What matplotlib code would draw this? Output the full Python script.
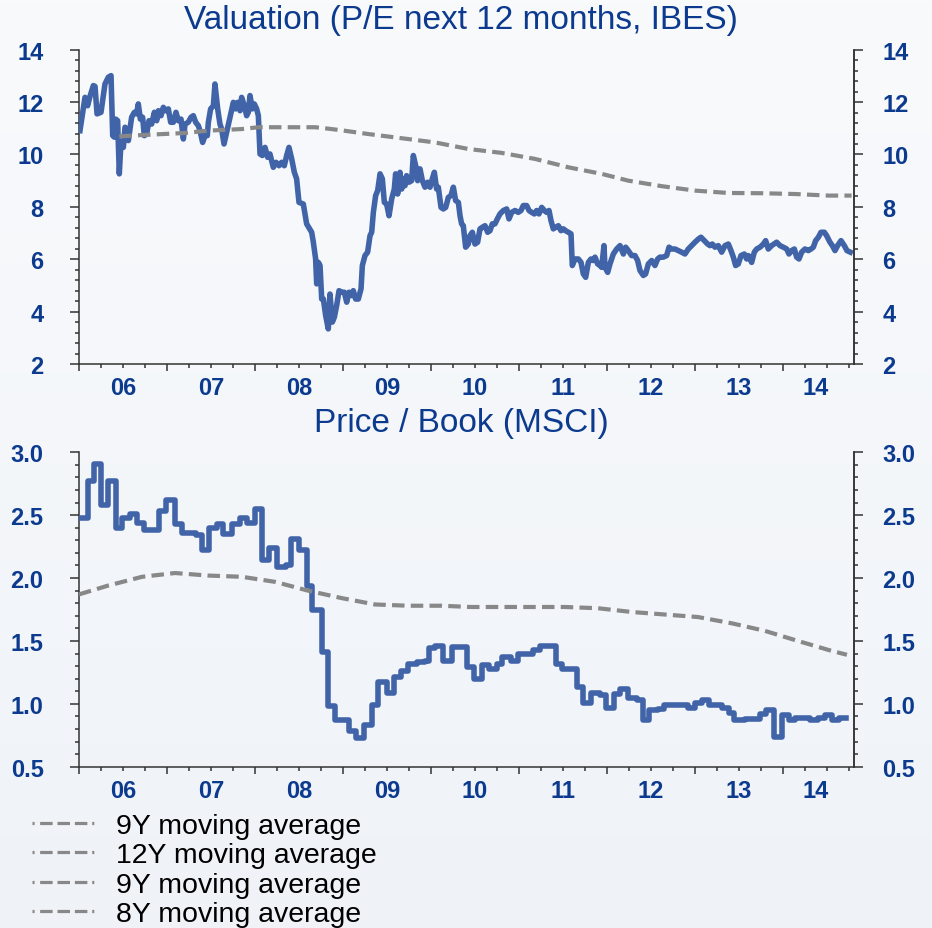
import numpy as np
import matplotlib
matplotlib.use("Agg")
import matplotlib.pyplot as plt
from matplotlib.colors import LinearSegmentedColormap
from matplotlib.lines import Line2D

plt.rcParams['font.family'] = ['Liberation Sans', 'DejaVu Sans']
plt.rcParams['lines.scale_dashes'] = False

BASE = 2006

# P/E next 12 months (years since Jan 2006, value)
pe_t = [0.011, 0.068, 0.098, 0.125, 0.163, 0.182, 0.205, 0.250, 0.295, 0.333, 0.364,
        0.383, 0.402, 0.417, 0.439, 0.458, 0.477, 0.504, 0.523, 0.542, 0.561,
        0.598, 0.629, 0.655, 0.674, 0.697, 0.723, 0.742, 0.769, 0.795, 0.826,
        0.856, 0.883, 0.902, 0.932, 0.958, 0.985, 1.015, 1.042, 1.072, 1.102,
        1.129, 1.159, 1.186, 1.205, 1.242, 1.273, 1.299, 1.326, 1.356, 1.375,
        1.405, 1.432, 1.458, 1.470, 1.496, 1.527, 1.545, 1.576, 1.602, 1.621,
        1.648, 1.678, 1.716, 1.754, 1.780, 1.803, 1.830, 1.848, 1.879, 1.905,
        1.924, 1.943, 1.970, 1.992, 2.019, 2.038, 2.057, 2.083, 2.114, 2.144,
        2.170, 2.208, 2.239, 2.273, 2.303, 2.333, 2.360, 2.386, 2.417, 2.447,
        2.473, 2.500, 2.549, 2.587, 2.644, 2.663, 2.689, 2.701, 2.720, 2.739,
        2.758, 2.777, 2.803, 2.833, 2.852, 2.879, 2.902, 2.928, 2.955, 2.985,
        3.015, 3.042, 3.068, 3.098, 3.117, 3.144, 3.174, 3.205, 3.220, 3.250,
        3.280, 3.307, 3.326, 3.345, 3.371, 3.394, 3.421, 3.447, 3.470, 3.496,
        3.523, 3.553, 3.583, 3.598, 3.621, 3.648, 3.667, 3.686, 3.705, 3.723,
        3.750, 3.780, 3.799, 3.826, 3.848, 3.875, 3.902, 3.932, 3.962, 3.989,
        4.015, 4.038, 4.064, 4.083, 4.114, 4.140, 4.167, 4.197, 4.227, 4.254,
        4.280, 4.311, 4.330, 4.348, 4.367, 4.394, 4.424, 4.443, 4.470, 4.500,
        4.530, 4.557, 4.583, 4.614, 4.644, 4.670, 4.697, 4.727, 4.754, 4.784,
        4.822, 4.860, 4.886, 4.917, 4.955, 4.992, 5.023, 5.049, 5.087, 5.114,
        5.144, 5.174, 5.201, 5.227, 5.258, 5.288, 5.314, 5.341, 5.364, 5.390,
        5.417, 5.447, 5.477, 5.504, 5.530, 5.561, 5.591, 5.606, 5.636, 5.674,
        5.705, 5.731, 5.758, 5.788, 5.818, 5.845, 5.864, 5.894, 5.920, 5.939,
        5.966, 5.977, 6.008, 6.034, 6.072, 6.110, 6.148, 6.186, 6.212, 6.242,
        6.280, 6.318, 6.348, 6.375, 6.413, 6.439, 6.470, 6.508, 6.545, 6.576,
        6.602, 6.640, 6.678, 6.705, 6.735, 6.773, 6.811, 6.848, 6.886, 6.924,
        6.962, 7.000, 7.038, 7.068, 7.106, 7.144, 7.170, 7.197, 7.227, 7.265,
        7.303, 7.341, 7.379, 7.409, 7.436, 7.462, 7.492, 7.523, 7.561, 7.587,
        7.606, 7.644, 7.674, 7.701, 7.739, 7.777, 7.803, 7.833, 7.871, 7.928,
        7.966, 8.004, 8.042, 8.068, 8.098, 8.129, 8.155, 8.182, 8.212, 8.250,
        8.288, 8.318, 8.345, 8.371, 8.402, 8.432, 8.470, 8.496, 8.534, 8.561,
        8.591, 8.621, 8.659, 8.697, 8.727, 8.765]
pe_v = [10.91, 12.18, 11.86, 12.22, 12.63, 12.60, 11.55, 11.61, 12.69, 12.95, 13.01,
        10.72, 10.66, 11.35, 11.29, 9.26, 10.46, 10.27, 11.04, 10.97, 10.53,
        11.42, 11.61, 11.55, 11.93, 11.35, 11.42, 10.72, 10.78, 11.29, 11.16,
        11.61, 11.29, 11.67, 11.48, 11.80, 11.67, 11.74, 11.23, 11.23, 11.61,
        11.29, 11.35, 10.59, 11.16, 11.23, 11.42, 11.48, 11.23, 11.10, 10.91,
        10.46, 10.72, 10.72, 11.23, 11.74, 11.86, 12.69, 11.74, 11.16, 10.97,
        10.40, 10.85, 11.42, 11.99, 11.74, 11.99, 11.67, 12.18, 11.86, 11.48,
        11.61, 12.25, 11.74, 11.93, 11.74, 11.48, 10.02, 9.96, 10.27, 9.89,
        10.02, 9.51, 9.70, 9.57, 9.70, 9.57, 9.96, 10.27, 9.83, 9.32,
        9.07, 8.17, 8.11, 7.35, 7.03, 6.65, 6.01, 5.06, 5.88, 5.76,
        4.48, 4.48, 3.85, 3.34, 4.67, 3.60, 3.79, 4.23, 4.80, 4.74,
        4.74, 4.36, 4.74, 4.61, 4.80, 4.48, 4.48, 4.87, 5.76, 6.14,
        6.27, 6.90, 7.03, 7.79, 8.43, 8.62, 9.26, 9.07, 8.17, 8.11,
        7.66, 8.30, 8.68, 9.26, 8.49, 9.32, 8.68, 9.07, 8.81, 9.19,
        8.94, 9.00, 9.96, 9.57, 9.00, 9.45, 9.00, 8.75, 8.94, 8.75,
        9.07, 9.32, 8.68, 8.75, 7.98, 7.92, 7.98, 8.36, 8.43, 8.75,
        8.24, 8.17, 7.66, 7.35, 7.28, 6.46, 6.58, 6.90, 7.03, 6.58,
        6.65, 7.16, 7.22, 7.28, 7.03, 7.09, 7.35, 7.35, 7.54, 7.73,
        7.86, 7.92, 7.54, 7.79, 7.86, 7.79, 7.86, 8.05, 8.05, 7.86,
        7.79, 7.73, 7.86, 7.73, 7.98, 7.86, 7.79, 7.86, 7.47, 7.16,
        7.22, 7.28, 7.09, 7.16, 7.09, 7.03, 6.97, 5.76, 6.01, 6.01,
        5.88, 5.44, 5.31, 5.88, 6.01, 5.95, 6.08, 5.82, 5.76, 5.69,
        6.52, 5.69, 5.50, 5.82, 6.20, 6.39, 6.52, 6.20, 6.46, 6.33,
        6.14, 6.14, 5.95, 5.57, 5.38, 5.44, 5.82, 5.95, 5.76, 6.01,
        6.08, 6.08, 6.14, 6.46, 6.39, 6.39, 6.33, 6.27, 6.20, 6.39,
        6.52, 6.65, 6.77, 6.84, 6.71, 6.58, 6.52, 6.58, 6.46, 6.52,
        6.27, 6.52, 6.58, 6.33, 6.08, 5.76, 5.82, 6.14, 6.20, 6.01,
        6.14, 5.88, 6.27, 6.39, 6.46, 6.58, 6.71, 6.39, 6.52, 6.65,
        6.52, 6.46, 6.39, 6.20, 6.33, 6.39, 6.08, 6.01, 6.27, 6.39,
        6.33, 6.39, 6.46, 6.71, 6.84, 7.03, 7.03, 6.90, 6.65, 6.52,
        6.33, 6.52, 6.71, 6.52, 6.33, 6.27]

pe_ma_t = [0.458, 0.712, 1.205, 1.470, 1.848, 2.038, 2.682, 2.795, 2.966, 3.288,
           3.667, 4.045, 4.424, 4.803, 5.182, 5.561, 5.939, 6.242, 6.621, 7.000,
           7.379, 7.758, 8.136, 8.515, 8.780]
pe_ma_v = [10.69, 10.74, 10.82, 10.91, 10.97, 11.04, 11.04, 11.00, 10.93, 10.78,
           10.62, 10.46, 10.21, 10.06, 9.83, 9.51, 9.26, 9.00, 8.79, 8.62,
           8.53, 8.52, 8.49, 8.43, 8.43]

# Price / Book (step series)
pb_t = [0.011, 0.098, 0.174, 0.250, 0.326, 0.417, 0.492, 0.580, 0.655, 0.742,
        0.913, 0.985, 1.091, 1.167, 1.326, 1.402, 1.481, 1.564, 1.640, 1.742,
        1.830, 1.905, 2.000, 2.083, 2.159, 2.246, 2.348, 2.409, 2.500, 2.587,
        2.652, 2.758, 2.833, 2.909, 3.068, 3.144, 3.242, 3.326, 3.402, 3.496,
        3.583, 3.659, 3.742, 3.837, 3.932, 3.977, 4.045, 4.140, 4.235, 4.405,
        4.492, 4.576, 4.659, 4.746, 4.803, 4.909, 4.985, 5.163, 5.239, 5.417,
        5.492, 5.655, 5.731, 5.818, 5.920, 5.985, 6.076, 6.148, 6.235, 6.337,
        6.413, 6.477, 6.583, 6.652, 6.917, 7.000, 7.083, 7.159, 7.303, 7.386,
        7.447, 7.568, 7.739, 7.807, 7.894, 7.992, 8.068, 8.136, 8.307, 8.402,
        8.477, 8.561, 8.636, 8.712]
pb_v = [2.48, 2.77, 2.91, 2.58, 2.77, 2.40, 2.48, 2.51, 2.44, 2.38,
        2.53, 2.62, 2.43, 2.36, 2.34, 2.22, 2.40, 2.43, 2.35, 2.43,
        2.48, 2.44, 2.55, 2.14, 2.24, 2.09, 2.10, 2.31, 2.22, 1.94,
        1.75, 1.41, 0.98, 0.87, 0.78, 0.73, 0.83, 0.99, 1.17, 1.09,
        1.21, 1.26, 1.32, 1.33, 1.34, 1.44, 1.46, 1.34, 1.45, 1.29,
        1.20, 1.31, 1.28, 1.32, 1.37, 1.34, 1.40, 1.43, 1.46, 1.32,
        1.28, 1.13, 1.01, 1.09, 1.07, 0.97, 1.08, 1.12, 1.05, 1.03,
        0.87, 0.95, 0.96, 0.99, 0.97, 1.01, 1.03, 0.99, 0.97, 0.93,
        0.87, 0.88, 0.92, 0.95, 0.74, 0.91, 0.87, 0.89, 0.87, 0.89,
        0.91, 0.87, 0.89, 0.89]

pb_ma_t = [0.0, 0.330, 0.716, 1.091, 1.466, 1.852, 2.227, 2.602, 2.989, 3.364,
           3.739, 4.125, 4.443, 4.761, 5.148, 5.523, 5.898, 6.284, 6.659, 7.034,
           7.420, 7.795, 8.170, 8.557, 8.727]
pb_ma_v = [1.87, 1.94, 2.01, 2.04, 2.02, 2.01, 1.97, 1.90, 1.84, 1.79,
           1.78, 1.78, 1.77, 1.77, 1.77, 1.77, 1.76, 1.73, 1.71, 1.69,
           1.64, 1.58, 1.50, 1.42, 1.39]

year_labels = ['06', '07', '08', '09', '10', '11', '12', '13', '14']
year_label_pos = [0.5, 1.5, 2.5, 3.5, 4.5, 5.5, 6.5, 7.5, 8.37]
legend_labels = ['9Y moving average', '12Y moving average',
                 '9Y moving average', '8Y moving average']

BLUE = '#4164a9'
GREY = '#888888'
NAVY = '#0b3a8e'
SPINE = '#333333'
XMAX = 8.807
TICKSIZE = 17

fig = plt.figure(figsize=(9.32, 9.29), dpi=100)

# soft background gradient
bg = fig.add_axes([0, 0, 1, 1], zorder=-10)
grad = np.linspace(0, 1, 256).reshape(-1, 1)
cmap = LinearSegmentedColormap.from_list('bg', ['#f9fafc', '#eff3f8'])
bg.imshow(grad, aspect='auto', cmap=cmap, extent=[0, 1, 0, 1])
bg.axis('off')


def style_axes(ax, ylim, major, minor, fmt):
    ax.set_facecolor('none')
    ax.set_xlim(BASE, BASE + XMAX)
    ax.set_ylim(*ylim)
    ax.spines['top'].set_visible(False)
    for s in ['left', 'right', 'bottom']:
        ax.spines[s].set_color(SPINE)
        ax.spines[s].set_linewidth(1.1)
    ax.set_xticks([BASE + i for i in range(9)])
    ax.set_xticks([BASE + i * 0.25 for i in range(36) if i % 4], minor=True)
    ax.tick_params(axis='x', which='major', length=5, width=1.1, color=SPINE,
                   labelbottom=False)
    ax.tick_params(axis='x', which='minor', length=3, width=1.1, color=SPINE)
    ax.set_yticks(major)
    ax.set_yticks(minor, minor=True)
    ax.set_yticklabels([fmt % v for v in major])
    ax.tick_params(axis='y', which='major', length=6.5, width=1.1, color=SPINE,
                   pad=19, labelsize=TICKSIZE, labelcolor=NAVY)
    ax.tick_params(axis='y', which='minor', length=3, width=1.1, color=SPINE)
    for lab in ax.get_yticklabels():
        lab.set_fontweight('bold')

    rx = ax.twinx()
    rx.set_ylim(*ylim)
    for s in ['left', 'top', 'bottom']:
        rx.spines[s].set_visible(False)
    rx.spines['right'].set_color(SPINE)
    rx.spines['right'].set_linewidth(1.1)
    rx.set_yticks(major)
    rx.set_yticks(minor, minor=True)
    rx.set_yticklabels([fmt % v for v in major])
    rx.tick_params(axis='y', which='major', length=6.5, width=1.1, color=SPINE,
                   pad=14, labelsize=TICKSIZE, labelcolor=NAVY)
    rx.tick_params(axis='y', which='minor', length=3, width=1.1, color=SPINE)
    for lab in rx.get_yticklabels():
        lab.set_fontweight('bold')

    for lab, pos in zip(year_labels, year_label_pos):
        ax.annotate(lab, xy=(BASE + pos, 0), xycoords=('data', 'axes fraction'),
                    xytext=(0, -8.5), textcoords='offset points', ha='center',
                    va='top', fontsize=TICKSIZE, fontweight='bold', color=NAVY)


# top: P/E
ax1 = fig.add_axes([79 / 932, 1 - 365 / 929, 775 / 932, 314.3 / 929])
ax1.plot(np.array(pe_t) + BASE, pe_v, color=BLUE, lw=4.0, solid_joinstyle='round',
         zorder=3)
ax1.plot(np.array(pe_ma_t) + BASE, pe_ma_v, color=GREY, lw=3.0,
         linestyle=(0, (9, 4.5)), zorder=4)
style_axes(ax1, (2, 14), np.arange(2, 15, 2), np.arange(2, 14.01, 0.4), '%d')

# bottom: P/B
ax2 = fig.add_axes([79 / 932, 1 - 767.7 / 929, 775 / 932, 314.4 / 929])
ax2.plot(np.array(pb_t) + BASE, pb_v, color=BLUE, lw=4.0, drawstyle='steps-post',
         solid_joinstyle='round', zorder=3)
ax2.plot(np.array(pb_ma_t) + BASE, pb_ma_v, color=GREY, lw=3.0,
         linestyle=(0, (9, 4.5)), zorder=4)
style_axes(ax2, (0.5, 3.0), np.arange(0.5, 3.01, 0.5), np.arange(0.5, 3.001, 0.1), '%.1f')

fig.text(461 / 932, 1 - 21 / 929, 'Valuation (P/E next 12 months, IBES)',
         ha='center', va='center', fontsize=24, color=NAVY)
fig.text(461 / 932, 1 - 424 / 929, 'Price / Book (MSCI)',
         ha='center', va='center', fontsize=24, color=NAVY)

handles = [Line2D([], [], color=GREY, lw=2.3,
                  linestyle=(0, (1.5, 4, 9, 3.5, 9, 3.5, 9, 3.5)))
           for _ in legend_labels]
fig.legend(handles, legend_labels, loc='upper left',
           bbox_to_anchor=(32 / 932, 1 - 814 / 929), frameon=False,
           fontsize=20.5, handlelength=2.35, handletextpad=0.6,
           labelspacing=0.12, borderpad=0, borderaxespad=0)

fig.savefig('out.png', dpi=100, facecolor=fig.get_facecolor())
